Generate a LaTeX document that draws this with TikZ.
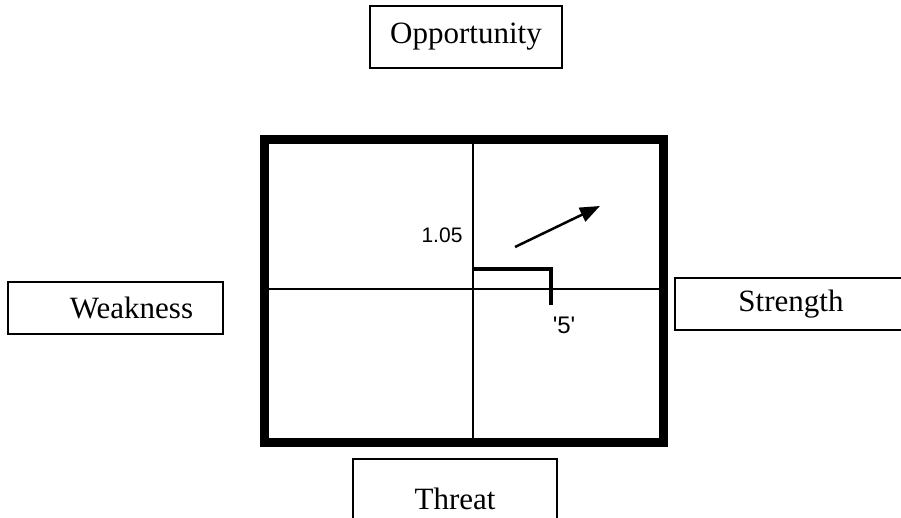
\documentclass[tikz,border=0pt]{standalone}
\usepackage{fontspec}
\setmainfont{Liberation Serif}
\newfontfamily\arialfont{Liberation Sans}
\usetikzlibrary{arrows.meta}
\tikzset{
	labelbox/.style={draw, line width=1.5pt, inner sep=0pt, font=\fontsize{31}{36}\selectfont},
	thinline/.style={line width=1.5pt},
	valtext/.style={font=\arialfont\fontsize{21}{25}\selectfont}
}
\begin{document}
\begin{tikzpicture}[x=1pt,y=-1pt]
		\useasboundingbox (0,0) rectangle (901,518);

		%outer frame
		\draw[line width=9pt] (264.5,139.5) rectangle (663.5,442.5);
		\coordinate (origin) at (473,289);
		\draw[thinline] (473,139.5) -- (origin) -- (473,442.5);
		\draw[thinline] (264.5,289) -- (origin) -- (663.5,289);

		%labels round the frame
		\node[labelbox, minimum width=192, minimum height=62] (opp) at (466,37) {Opportunity};
		\node[labelbox, minimum width=215, minimum height=52,
			label={[xshift=16pt,font=\fontsize{31}{36}\selectfont]center:Weakness}] (weak) at (115.5,308) {};
		\node[labelbox, minimum width=232, minimum height=52] (str) at (791,304) {Strength};
		\node[labelbox, minimum width=204, minimum height=80] (thr) at (455,499) {Threat};

		%values
		\node[valtext] (ytext) at (442,235) {1.05};
		\node[valtext, font=\arialfont\fontsize{24}{28}\selectfont] (xtext) at (564,325) {'5'};
		\draw[line width=3.5pt] (origin |- 0,269) -- (551,269) -- (551,305);

		%direction
		\draw[line width=2.5pt, -{Triangle[length=20pt,width=15pt]}] (515,247) -- (600,206);

	\end{tikzpicture}
\end{document}
